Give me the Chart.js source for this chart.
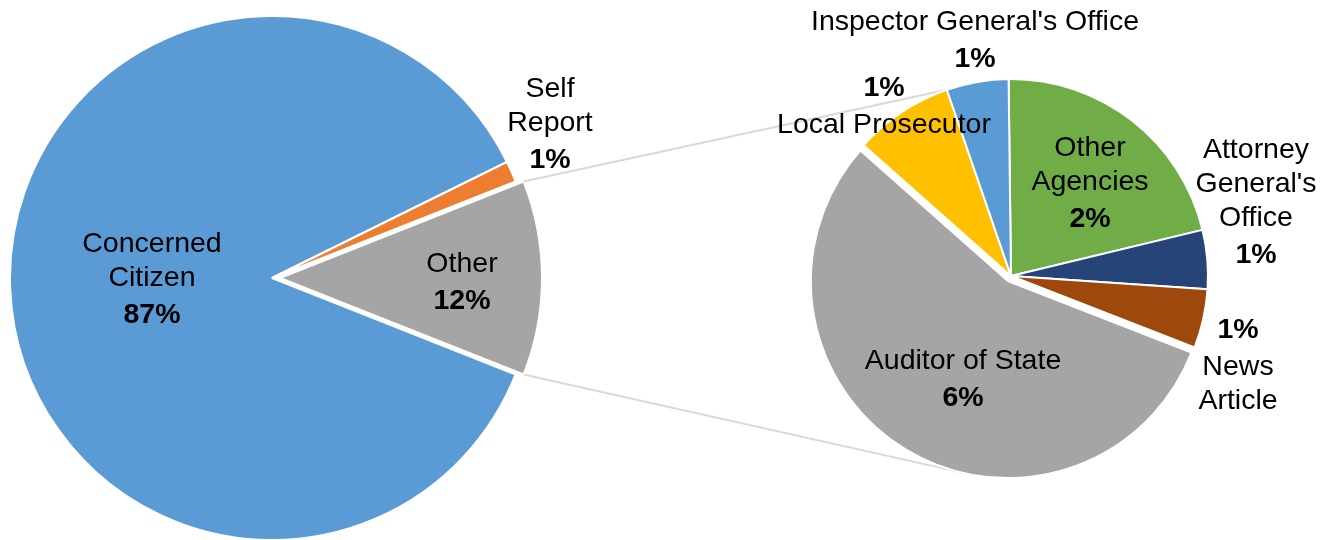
<!DOCTYPE html>
<html>
<head>
<meta charset="UTF-8">
<title>Source of Referrals</title>
<script src="https://cdn.jsdelivr.net/npm/chart.js"></script>
<style>
  html, body { margin: 0; padding: 0; background: #fff; }
  #wrap { position: relative; width: 1330px; height: 540px; overflow: hidden; }
  #wrap canvas { position: absolute; left: 0; top: 0; }
</style>
</head>
<body>
<div id="wrap">
  <canvas id="mainPie" width="1330" height="540"></canvas>
  <canvas id="subPie" width="1330" height="540"></canvas>
</div>
<script>
// main pie (share of all referrals, %)
const mainLabels = ['Other', 'Concerned Citizen', 'Self Report'];
const mainNames = [['Other'], ['Concerned', 'Citizen'], ['Self', 'Report']];
const mainPct = ['12%', '87%', '1%'];
const mainValues = [12.0, 86.7, 1.3];
const mainColors = ['#a5a5a5', '#5b9bd5', '#ed7d31'];

// second pie: what "Other" is made of (% of all referrals)
const subLabels = ['Other Agencies', "Attorney General's Office", 'News Article',
                   'Auditor of State', 'Local Prosecutor', "Inspector General's Office"];
const subNames = [['Other', 'Agencies'], ['Attorney', "General's", 'Office'], ['News', 'Article'],
                  ['Auditor of State'], ['Local Prosecutor'], ["Inspector General's Office"]];
const subPct = ['2%', '1%', '1%', '6%', '1%', '1%'];
const subValues = [2.57, 0.58, 0.58, 6.67, 0.98, 0.61];
const subColors = ['#70ad47', '#264478', '#9e480e', '#a5a5a5', '#ffc000', '#5b9bd5'];

// layout (pixels)
const W = 1330, H = 540;
const mainBox = { cx: 272, cy: 278, r: 262, explodeIndex: 0, explode: 8 };
const subBox = { cx: 1011, cy: 276, r: 197, explodeIndex: 3, explode: 6, startDeg: -0.7 };
// label block centre relative to pie centre, and whether the % line comes first
const mainLabelPos = [[190, 4.5, false], [-120, 2, false], [278, -153.5, false]];
const subLabelPos = [[79, -92.5, false], [245, -73.5, false], [227, 89.5, true],
                     [-48, 103.5, false], [-127, -169.5, true], [-36, -235.5, false]];
const seriesLineDeg = [-19, 190];

const FONT = '"Liberation Sans", Arial, sans-serif';
const NAME_GAP = 34, PCT_GAP = 37;

function padFor(cx, cy) {
  return {
    left: Math.max(0, 2 * cx - W), right: Math.max(0, W - 2 * cx),
    top: Math.max(0, 2 * cy - H), bottom: Math.max(0, H - 2 * cy)
  };
}

// pull one slice out a little without growing it
const explodePlugin = {
  id: 'explode',
  afterUpdate(chart, args, opts) {
    const arc = chart.getDatasetMeta(0).data[opts.index];
    if (!arc) return;
    const mid = (arc.startAngle + arc.endAngle) / 2;
    arc.x += Math.cos(mid) * opts.distance;
    arc.y += Math.sin(mid) * opts.distance;
  }
};

// text labels: names normal, percentages bold
const pieLabels = {
  id: 'pieLabels',
  afterDatasetsDraw(chart, args, opts) {
    const ctx = chart.ctx;
    const a = chart.chartArea;
    const cx = (a.left + a.right) / 2, cy = (a.top + a.bottom) / 2;
    ctx.save();
    ctx.fillStyle = '#000';
    ctx.textAlign = 'center';
    ctx.textBaseline = 'middle';
    opts.names.forEach((name, i) => {
      const [dx, dy, pctFirst] = opts.pos[i];
      let lines = name.map(t => ({ t, bold: false }));
      const pct = { t: opts.pct[i], bold: true };
      lines = pctFirst ? [pct].concat(lines) : lines.concat([pct]);
      const ys = [0];
      for (let k = 1; k < lines.length; k++) {
        const gap = (lines[k].bold || lines[k - 1].bold) ? PCT_GAP : NAME_GAP;
        ys.push(ys[k - 1] + gap);
      }
      const y0 = cy + dy - ys[ys.length - 1] / 2;
      lines.forEach((ln, k) => {
        ctx.font = (ln.bold ? 'bold ' : '') + '28.5px ' + FONT;
        ctx.fillText(ln.t, cx + dx, y0 + ys[k]);
      });
    });
    ctx.restore();
  }
};

const mainChart = new Chart(document.getElementById('mainPie'), {
  type: 'pie',
  data: {
    labels: mainLabels,
    datasets: [{
      data: mainValues,
      backgroundColor: mainColors,
      borderColor: '#fff',
      borderWidth: 2
    }]
  },
  options: {
    responsive: false,
    animation: false,
    events: [],
    radius: mainBox.r,
    rotation: 90 - mainValues[0] / mainValues.reduce((s, v) => s + v, 0) * 180,
    layout: { padding: padFor(mainBox.cx, mainBox.cy) },
    plugins: {
      legend: { display: false },
      tooltip: { enabled: false },
      explode: { index: mainBox.explodeIndex, distance: mainBox.explode },
      pieLabels: { names: mainNames, pct: mainPct, pos: mainLabelPos }
    }
  },
  plugins: [explodePlugin, pieLabels]
});

// grey lines joining the "Other" slice to the second pie
const seriesLines = {
  id: 'seriesLines',
  beforeDatasetsDraw(chart) {
    const src = mainChart.getDatasetMeta(0).data[0];
    const arcs = chart.getDatasetMeta(0).data;
    const a = chart.chartArea;
    const cx = (a.left + a.right) / 2, cy = (a.top + a.bottom) / 2;
    const grey = arcs[subBox.explodeIndex];
    const ends = [
      [cx, cy, seriesLineDeg[0]],
      [grey.x, grey.y, seriesLineDeg[1]]
    ].map(([x, y, deg]) => {
      const t = (deg - 90) * Math.PI / 180;
      return [x + Math.cos(t) * grey.outerRadius, y + Math.sin(t) * grey.outerRadius];
    });
    const starts = [src.startAngle, src.endAngle].map(t =>
      [src.x + Math.cos(t) * src.outerRadius, src.y + Math.sin(t) * src.outerRadius]);
    const ctx = chart.ctx;
    ctx.save();
    ctx.strokeStyle = '#d9d9d9';
    ctx.lineWidth = 2;
    for (let i = 0; i < 2; i++) {
      ctx.beginPath();
      ctx.moveTo(starts[i][0], starts[i][1]);
      ctx.lineTo(ends[i][0], ends[i][1]);
      ctx.stroke();
    }
    ctx.restore();
  }
};

new Chart(document.getElementById('subPie'), {
  type: 'pie',
  data: {
    labels: subLabels,
    datasets: [{
      data: subValues,
      backgroundColor: subColors,
      borderColor: '#fff',
      borderWidth: 2
    }]
  },
  options: {
    responsive: false,
    animation: false,
    events: [],
    radius: subBox.r,
    rotation: subBox.startDeg,
    layout: { padding: padFor(subBox.cx, subBox.cy) },
    plugins: {
      legend: { display: false },
      tooltip: { enabled: false },
      explode: { index: subBox.explodeIndex, distance: subBox.explode },
      pieLabels: { names: subNames, pct: subPct, pos: subLabelPos }
    }
  },
  plugins: [explodePlugin, seriesLines, pieLabels]
});
</script>
</body>
</html>
